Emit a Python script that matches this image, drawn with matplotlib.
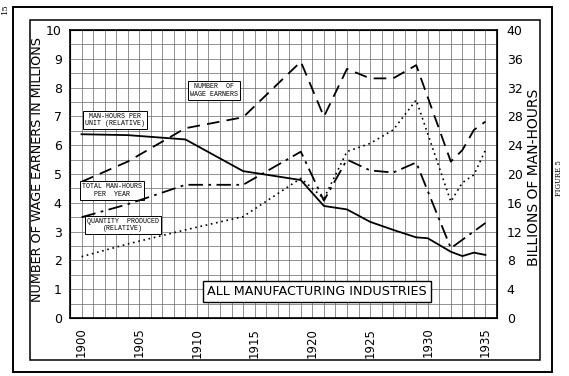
import matplotlib.pyplot as plt
from matplotlib.patches import Rectangle
import numpy as np

# values (left axis: millions / relative, right axis: billions)
years_wage = [1900, 1904, 1909, 1914, 1919, 1921, 1923, 1925, 1927, 1929, 1932, 1933, 1934, 1935]
wage_earners = [4.73, 5.43, 6.59, 6.97, 8.90, 6.99, 8.65, 8.32, 8.32, 8.78, 5.43, 5.83, 6.53, 6.82]

years_unit = [1900, 1904, 1909, 1914, 1919, 1921, 1923, 1925, 1927, 1929, 1930, 1932, 1933, 1934, 1935]
hours_per_unit = [6.38, 6.35, 6.20, 5.10, 4.79, 3.89, 3.77, 3.34, 3.06, 2.80, 2.77, 2.30, 2.15, 2.27, 2.19]

years_total = [1900, 1904, 1909, 1914, 1919, 1921, 1923, 1925, 1927, 1929, 1932, 1935]
total_hours = [14.0, 15.8, 18.5, 18.5, 23.1, 16.3, 22.0, 20.5, 20.2, 21.6, 9.7, 13.2]

years_qty = [1900, 1904, 1909, 1914, 1919, 1921, 1923, 1925, 1927, 1929, 1932, 1933, 1934, 1935]
quantity = [2.13, 2.57, 3.06, 3.52, 4.85, 4.15, 5.78, 6.06, 6.53, 7.57, 4.04, 4.70, 4.97, 5.83]

year_ticks = [1900, 1905, 1910, 1915, 1920, 1925, 1930, 1935]
left_ticks = list(range(0, 11))
right_ticks = list(range(0, 41, 4))

W, H = 569, 376
fig = plt.figure(figsize=(W / 100, H / 100), dpi=100)
ax = fig.add_axes([70 / W, 1 - 318 / H, 427 / W, 288 / H])

ax.set_xlim(1899, 1936)
ax.set_ylim(0, 10)
ax.set_xticks(year_ticks)
ax.set_xticklabels([str(y) for y in year_ticks], rotation=90, fontsize=8.5)
ax.set_xticks(np.arange(1899, 1937), minor=True)
ax.set_yticks(left_ticks)
ax.set_yticks(np.arange(0, 10.01, 0.5), minor=True)
ax.tick_params(axis='both', which='both', length=0)
ax.tick_params(axis='x', pad=7)
ax.tick_params(axis='y', pad=6, labelsize=9)
ax.grid(True, which='both', color='#666666', lw=0.5)
ax.set_axisbelow(True)
for s in ax.spines.values():
    s.set_linewidth(1.2)

ax.plot(years_wage, wage_earners, color='black', lw=1.3, ls=(0, (7, 4)))
ax.plot(years_unit, hours_per_unit, color='black', lw=1.3)
ax.plot(years_qty, quantity, color='black', lw=1.2, ls=(0, (1, 2.2)))

ax2 = ax.twinx()
ax2.set_ylim(0, 40)
ax2.set_yticks(right_ticks)
ax2.tick_params(axis='y', length=0, pad=7, labelsize=9)
ax2.plot(years_total, total_hours, color='black', lw=1.3, ls=(0, (8, 3, 1.5, 3)))

# boxed labels
box = dict(boxstyle='square,pad=0.3', fc='white', ec='black', lw=0.7)
mono = 'Liberation Mono'
ax.text(1911.5, 7.9, 'NUMBER  OF\nWAGE EARNERS', fontsize=4.8, family=mono,
        ha='center', va='center', bbox=box, linespacing=1.1)
ax.text(1902.9, 6.88, 'MAN-HOURS PER\nUNIT (RELATIVE)', fontsize=4.8, family=mono,
        ha='center', va='center', bbox=box, linespacing=1.1)
ax.text(1902.6, 4.42, 'TOTAL MAN-HOURS\nPER  YEAR', fontsize=4.8, family=mono,
        ha='center', va='center', bbox=box, linespacing=1.1)
ax.text(1903.6, 3.23, 'QUANTITY  PRODUCED\n(RELATIVE)', fontsize=4.8, family=mono,
        ha='center', va='center', bbox=box, linespacing=1.1)
ax.text(1920.4, 0.92, 'ALL MANUFACTURING INDUSTRIES', fontsize=9.2,
        ha='center', va='center', zorder=5,
        bbox=dict(boxstyle='square,pad=0.35', fc='white', ec='black', lw=1.0))

# axis titles
fig.text(38 / W, 1 - 169 / H, 'NUMBER OF WAGE EARNERS IN MILLIONS', rotation=90,
         ha='center', va='center', fontsize=9.2)
fig.text(534 / W, 1 - 177 / H, 'BILLIONS OF MAN-HOURS', rotation=90,
         ha='center', va='center', fontsize=10)

# page frames and marginal text
fig.patches.append(Rectangle((13 / W, 1 - 372 / H), 539 / W, 365 / H, transform=fig.transFigure,
                             fill=False, ec='black', lw=1.4))
fig.patches.append(Rectangle((30 / W, 1 - 360 / H), 510 / W, 340 / H, transform=fig.transFigure,
                             fill=False, ec='black', lw=1.1))
fig.text(5 / W, 1 - 9 / H, '15', rotation=90, ha='center', va='center', fontsize=6, family='serif')
fig.text(559 / W, 1 - 178 / H, 'FIGURE 5', rotation=90, ha='center', va='center',
         fontsize=5, family='serif')

fig.savefig('out.png', dpi=100)
